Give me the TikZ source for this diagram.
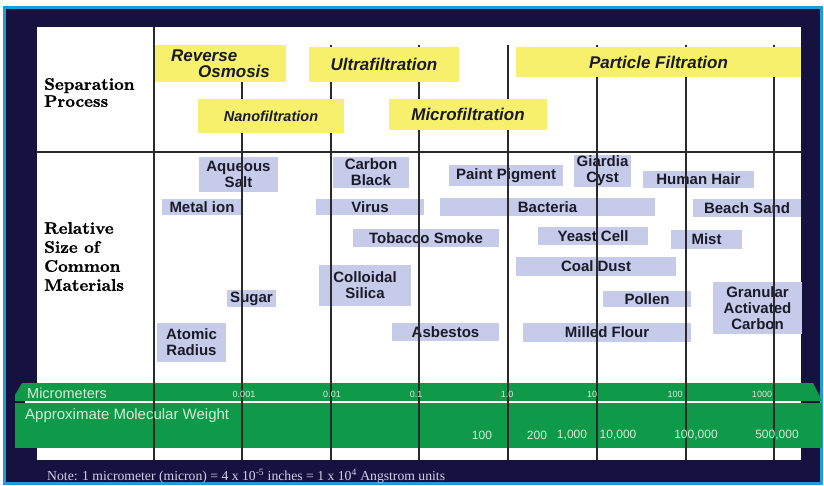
\documentclass[tikz,border=0pt]{standalone}
\usepackage{fontspec}
\newfontfamily\boxfont{Liberation Sans}
\newfontfamily\notefont{Liberation Serif}
\newfontfamily\labelfont{lmroman10-bold.otf}[FakeBold=1.2]
\definecolor{navy}{HTML}{16123F}
\definecolor{frameblue}{HTML}{1F9BD7}
\definecolor{bandgreen}{HTML}{0E9A48}
\definecolor{procyellow}{HTML}{F7F06C}
\definecolor{matblue}{HTML}{C5CBE8}
\definecolor{matink}{HTML}{1A1A2A}
\definecolor{gridgray}{HTML}{2A2A2A}
\definecolor{bandtext}{HTML}{D7EDD7}
\definecolor{notetext}{HTML}{D0D0EA}
\tikzstyle{matl} = [fill=matblue, inner sep=0pt, align=center, text=matink,
  font=\boxfont\bfseries\fontsize{15}{16}\selectfont]
\tikzstyle{proc} = [fill=procyellow, inner sep=0pt, align=center, text=matink,
  font=\boxfont\bfseries\itshape\fontsize{17}{16}\selectfont]
\tikzstyle{rowlabel} = [anchor=west, align=left, inner sep=0pt, text=black]
\tikzstyle{gridline} = [draw=gridgray, line width=1.1pt]
\tikzstyle{micro} = [inner sep=0pt, text=bandtext, font=\boxfont\fontsize{9}{10}\selectfont]
\tikzstyle{mw} = [inner sep=0pt, text=bandtext, font=\boxfont\fontsize{12}{13}\selectfont]

\begin{document}
\begin{tikzpicture}[x=1pt, y=-1pt]
	\useasboundingbox (0,0) rectangle (824,486);
	% frame and panel
	\fill[white] (0,0) rectangle (824,486);
	\draw[frameblue, fill=navy, line width=2.5pt] (4.5,7.5) rectangle (821.5,483.5);
	\fill[white] (37,27) rectangle (801,460);
	% green scale band
	\fill[bandgreen] (22,383) -- (813,383) -- (822,401) -- (15,401) -- (15,395) -- cycle;
	\fill[bandgreen] (15,403) rectangle (822,448);
	\draw[white, line width=1.2pt] (25,402) -- (800,402);
	
	% common materials
	\node[matl, minimum width=79pt, minimum height=35pt] (salt) at (238.5,174.5) {Aqueous\\Salt};
	\node[matl, minimum width=76pt, minimum height=31pt] (cblack) at (371,172.5) {Carbon\\Black};
	\node[matl, minimum width=114pt, minimum height=21pt] (paint) at (506,175.5) {Paint Pigment};
	\node[matl, minimum width=57pt, minimum height=32pt] (giardia) at (602.5,171) {Giardia\\Cyst};
	\node[matl, minimum width=111pt, minimum height=17pt] (hair) at (698.5,179.5) {Human Hair};
	\node[matl, minimum width=80pt, minimum height=16pt] (metal) at (202,207) {Metal ion};
	\node[matl, minimum width=108pt, minimum height=16pt] (virus) at (370,207) {Virus};
	\node[matl, minimum width=215pt, minimum height=18pt] (bact) at (547.5,207) {Bacteria};
	\node[matl, minimum width=108pt, minimum height=18pt] (sand) at (747,208) {Beach Sand};
	\node[matl, minimum width=146pt, minimum height=18pt] (smoke) at (426,238) {Tobacco Smoke};
	\node[matl, minimum width=110pt, minimum height=18pt] (yeast) at (593,236) {Yeast Cell};
	\node[matl, minimum width=71pt, minimum height=19pt] (mist) at (706.5,239.5) {Mist};
	\node[matl, minimum width=160pt, minimum height=19pt] (coal) at (596,266.5) {Coal Dust};
	\node[matl, minimum width=92pt, minimum height=41pt] (silica) at (365,285.5) {Colloidal\\Silica};
	\node[matl, minimum width=49pt, minimum height=17pt] (sugar) at (251.5,298.5) {Sugar};
	\node[matl, minimum width=88pt, minimum height=16pt] (pollen) at (647,299) {Pollen};
	\node[matl, minimum width=89pt, minimum height=52pt] (gac) at (757.5,308) {Granular\\Activated\\Carbon};
	\node[matl, minimum width=107pt, minimum height=18pt] (asb) at (445.5,332) {Asbestos};
	\node[matl, minimum width=168pt, minimum height=19pt] (flour) at (607,332.5) {Milled Flour};
	\node[matl, minimum width=69pt, minimum height=39pt] (atomic) at (191.5,342.5) {Atomic\\Radius};
	
	% grid
	\draw[gridline] (154,27) -- (154,460);
	\foreach \x in {242,331,419,508,597,686,774}
		\draw[gridline] (\x,45) -- (\x,460);
	\draw[gridline] (37,152) -- (801,152);
	
	% separation processes
	\node[proc, minimum width=131pt, minimum height=37pt, align=left] (ro) at (220.5,63.5) {Reverse\\\hspace*{27pt}Osmosis};
	\node[proc, minimum width=150pt, minimum height=35pt] (uf) at (384,64.5) {Ultrafiltration};
	\node[proc, minimum width=285pt, minimum height=30pt] (pf) at (658.5,62) {Particle Filtration};
	\node[proc, minimum width=146pt, minimum height=34pt, font=\boxfont\bfseries\itshape\fontsize{14.5}{16}\selectfont] (nf) at (271,116) {Nanofiltration};
	\node[proc, minimum width=158pt, minimum height=31pt] (mf) at (468,114.5) {Microfiltration};
	
	% row labels
	\node[rowlabel, font=\labelfont\fontsize{16.8}{17}\selectfont] (sep) at (44,92.5) {Separation\\Process};
	\node[rowlabel, font=\labelfont\fontsize{16.8}{19}\selectfont] (rel) at (44,256.5) {Relative\\Size of\\Common\\Materials};
	
	% scale band
	\node[anchor=west, inner sep=0pt, text=bandtext, font=\boxfont\fontsize{14.5}{15}\selectfont] (umlab) at (27,393) {Micrometers};
	\node[anchor=west, inner sep=0pt, text=bandtext, font=\boxfont\fontsize{15}{15}\selectfont] (mwlab) at (25,416) {Approximate Molecular Weight};
	\node[micro] (u1) at (244,394) {0.001};
	\node[micro] (u2) at (332,394) {0.01};
	\node[micro] (u3) at (416,394) {0.1};
	\node[micro] (u4) at (507,394) {1.0};
	\node[micro] (u5) at (592,394) {10};
	\node[micro] (u6) at (675,394) {100};
	\node[micro] (u7) at (762,394) {1000};
	\node[mw] (w1) at (482,435) {100};
	\node[mw] (w2) at (537,435) {200};
	\node[mw] (w3) at (572,435) {1,000};
	\node[mw] (w4) at (618,435) {10,000};
	\node[mw] (w5) at (696,435) {100,000};
	\node[mw] (w6) at (777,435) {500,000};
	
	% note
	\node[anchor=west, inner sep=0pt, text=notetext, font=\notefont\fontsize{13.7}{14}\selectfont] (note) at (47,476)
		{Note: 1 micrometer (micron) = 4 x 10\textsuperscript{-5} inches = 1 x 10\textsuperscript{4} Angstrom units};
\end{tikzpicture}
\end{document}
